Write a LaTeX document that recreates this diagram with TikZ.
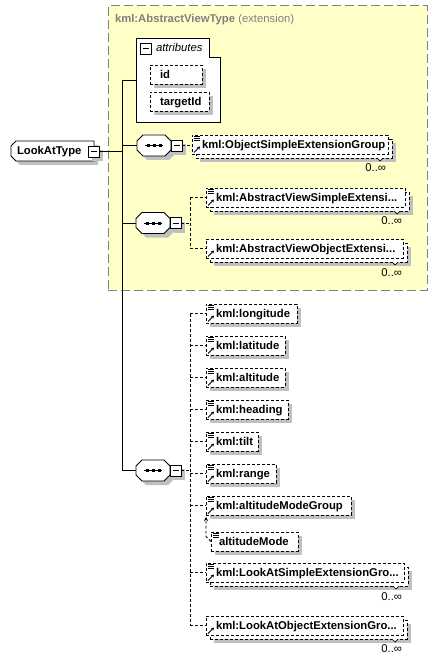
\documentclass[tikz,border=0pt]{standalone}
\usepackage{fontspec}
\setmainfont{Liberation Sans}
\usetikzlibrary{shadows,arrows.meta,calc}
\definecolor{yfill}{HTML}{FFFFC8}
\definecolor{ygray}{HTML}{808080}
\definecolor{shgray}{HTML}{C0C0C0}
\newcommand\elbox[2]{\makebox[#1][l]{\hspace{10pt}#2}}
\newcommand\eqicon[1]{%
  \foreach \k in {1,3,5} \draw[line width=0.7pt] ([shift={(2,\k)}]#1.north west) -- ++(6,0);
}
\newcommand\arricon[1]{%
  \draw[line width=0.8pt,-{Stealth[length=3pt,width=3.5pt]}] ([shift={(2,-1.5)}]#1.south west) -- ++(6,-6);
}
\newcommand\notch[1]{\draw[line width=0.7pt, fill=white] ([xshift=-15pt]#1.south east) -- ++(3,3) -- ++(3,-3);}
\newcommand\seqdots[1]{%
  \draw[line width=0.8pt] ([xshift=-9pt]#1.center) -- ([xshift=9pt]#1.center);
  \foreach \d in {-6,0,6} \fill ([shift={(\d-1.5,-1.5)}]#1.center) rectangle ++(3,3);
}
% octagon outline around node #1, chamfer #2, offset #3
\newcommand\octpath[4]{%
  \path[#4] ([shift={(#3+#2,#3)}]#1.north west) -- ([shift={(#3-#2,#3)}]#1.north east) -- ([shift={(#3,#3+#2)}]#1.north east) -- ([shift={(#3,#3-#2)}]#1.south east) -- ([shift={(#3-#2,#3)}]#1.south east) -- ([shift={(#3+#2,#3)}]#1.south west) -- ([shift={(#3,#3-#2)}]#1.south west) -- ([shift={(#3,#3+#2)}]#1.north west) -- cycle;
}
\newcommand\leftpath[4]{%
  \path[#4] ([shift={(#3+#2,#3)}]#1.north west) -- ([shift={(#3,#3)}]#1.north east) -- ([shift={(#3,#3)}]#1.south east) -- ([shift={(#3+#2,#3)}]#1.south west) -- ([shift={(#3,#3-#2)}]#1.south west) -- ([shift={(#3,#3+#2)}]#1.north west) -- cycle;
}
\newcommand\seqshape[1]{%
  \octpath{#1}{6}{4}{fill=shgray}%
  \octpath{#1}{6}{0}{draw, fill=white, line width=0.8pt}%
  \seqdots{#1}%
}
\begin{document}
\begin{tikzpicture}[x=1pt,y=-1pt,
  every node/.style={outer sep=0pt},
  bf/.style={font=\fontsize{11.3}{13}\selectfont\bfseries},
  rg/.style={font=\fontsize{11.3}{13}\selectfont},
  shd/.style={drop shadow={shadow xshift=4pt,shadow yshift=-4pt,fill=shgray,opacity=1}},
  box/.style={bf, draw, dash pattern=on 3pt off 2pt, line width=0.8pt, fill=white, anchor=north west, inner sep=0pt, minimum height=19pt, text height=8pt, text depth=0pt},
  minus/.style={draw, fill=white, line width=0.8pt, minimum size=11pt, inner sep=0pt, path picture={\draw[line width=0.8pt] ([xshift=2.5pt]path picture bounding box.west) -- ([xshift=-2.5pt]path picture bounding box.east);}},
  seqs/.style={rectangle, minimum width=34pt, minimum height=21pt, inner sep=0pt},
  solidc/.style={line width=0.8pt},
  dashc/.style={line width=0.8pt, dash pattern=on 3pt off 2pt},
  mult/.style={rg, anchor=base east, inner sep=0pt},
]
\useasboundingbox[fill=white] (0,0) rectangle (438,660);

% extension frame
\node[draw=ygray, fill=yfill, line width=1pt, dash pattern=on 9pt off 4pt, anchor=north west, minimum width=319pt, minimum height=284pt, inner sep=0pt] (ext) at (108,6) {};
\node[anchor=base west, inner sep=0pt, text=ygray, rg] (exttitle) at (115,23) {\textbf{kml:AbstractViewType} (extension)};

% attributes
\node[anchor=north west, minimum width=84pt, minimum height=84pt, inner sep=0pt] (attr) at (136,38) {};
\draw[line width=0.8pt, fill=white] (attr.north west) -- ([xshift=73pt]attr.north west) -- ([shift={(73,19)}]attr.north west) -- ([yshift=-19pt]attr.north east) -- (attr.south east) -- (attr.south west) -- cycle;
\node[minus, anchor=north west] (attrm) at (140,43) {};
\node[anchor=base west, inner sep=0pt, font=\fontsize{11.3}{13}\selectfont\itshape] (attrt) at (156,52) {attributes};
\node[box, shd] (id) at (150,65) {\elbox{52pt}{id}};
\node[box, shd] (tid) at (150,92) {\elbox{59pt}{targetId}};

% root
\node[rectangle, minimum width=83pt, minimum height=20pt, inner sep=0pt] (lat) at (52.5,151) {};
\leftpath{lat}{5}{4}{fill=shgray}
\leftpath{lat}{5}{0}{draw, fill=white, line width=0.8pt}
\node[anchor=base west, inner sep=0pt, bf] (latt) at (17,155) {LookAtType};
\node[minus, shd, anchor=north west] (latm) at (88,146) {};

% spine
\coordinate (spT) at (122,80);
\coordinate (spB) at (122,470.5);
\draw[solidc] (spT) -- (spB);
\draw[solidc] (spT) -- (attr.west |- spT);
\draw[solidc] (latm.east) -- (latm.east -| spT);

% sequence 1
\node[seqs] (s1) at (154,145.5) {};
\seqshape{s1}
\node[minus, shd, anchor=west] (s1m) at (s1.east) {};
\draw[solidc] (s1.west -| spT) -- (s1.west);
\node[box, shd] (osegb) at (196,139) {\elbox{196pt}{}};
\node[box] (oseg) at (192,135) {\elbox{196pt}{kml:ObjectSimpleExtensionGroup}};
\eqicon{oseg}\arricon{oseg}\notch{osegb}
\node[mult] (osegn) at (386,172) {0..∞};
\draw[dashc] (s1m.east) -- (s1m.east -| oseg.west);

% sequence 2
\node[seqs] (s2) at (153,223) {};
\seqshape{s2}
\node[minus, shd, anchor=west] (s2m) at (s2.east) {};
\draw[solidc] (s2.west -| spT) -- (s2.west);
\coordinate (j2) at (190,223);
\node[box, shd] (avsb) at (210,192) {\elbox{199pt}{}};
\node[box] (avs) at (206,188) {\elbox{199pt}{kml:AbstractViewSimpleExtensi...}};
\eqicon{avs}\arricon{avs}\notch{avsb}
\node[mult] (avsn) at (402,224) {0..∞};
\node[box, shd] (avob) at (210,243) {\elbox{197pt}{}};
\node[box] (avo) at (206,239) {\elbox{197pt}{kml:AbstractViewObjectExtensi...}};
\arricon{avo}\notch{avob}
\node[mult] (avon) at (402,276) {0..∞};
\draw[dashc] (s2m.east) -- (j2);
\draw[dashc] (avs.west -| j2) -- (avo.west -| j2);
\draw[dashc] (avs.west -| j2) -- (avs.west);
\draw[dashc] (avo.west -| j2) -- (avo.west);

% sequence 3
\node[seqs] (s3) at (153,470.5) {};
\seqshape{s3}
\node[minus, shd, anchor=west] (s3m) at (s3.east) {};
\draw[solidc] (spB) -- (s3.west);
\coordinate (j3) at (190,470.5);
\node[box, shd] (lon) at (206,304) {\elbox{91pt}{kml:longitude}};
\node[box, shd] (lati) at (206,336) {\elbox{79pt}{kml:latitude}};
\node[box, shd] (alt) at (206,368) {\elbox{79pt}{kml:altitude}};
\node[box, shd] (head) at (206,400) {\elbox{82pt}{kml:heading}};
\node[box, shd] (tilt) at (206,432) {\elbox{52pt}{kml:tilt}};
\node[box, shd] (rng) at (206,464) {\elbox{70pt}{kml:range}};
\node[box, shd] (amg) at (206,496) {\elbox{145pt}{kml:altitudeModeGroup}};
\node[box, shd] (am) at (211,532) {\makebox[87pt][l]{\hspace{8pt}altitudeMode}};
\node[box, shd] (lasb) at (210,567) {\elbox{198pt}{}};
\node[box] (las) at (206,563) {\elbox{198pt}{kml:LookAtSimpleExtensionGro...}};
\node[mult] (lasn) at (402,600) {0..∞};
\node[box, shd] (laob) at (210,620) {\elbox{197pt}{}};
\node[box] (lao) at (206,616) {\elbox{197pt}{kml:LookAtObjectExtensionGro...}};
\node[mult] (laon) at (402,652) {0..∞};
\foreach \n in {lon,lati,alt,head,tilt,rng,amg,las} {\eqicon{\n}}
\foreach \n in {lon,lati,alt,head,tilt,rng,amg,las,lao} {\arricon{\n}}
\eqicon{am}
\notch{lasb}\notch{laob}
\draw[dashc] (s3m.east) -- (j3);
\draw[dashc] (lon.west -| j3) -- (lao.west -| j3);
\foreach \n in {lon,lati,alt,head,tilt,rng,amg,las,lao} {\draw[dashc] (\n.west -| j3) -- (\n.west);}
\draw[dashc, -{Stealth[length=4pt,width=4pt]}] (am.west) -- ++(-5,-5) -- ([yshift=-2pt]amg.south west);
\end{tikzpicture}
\end{document}
